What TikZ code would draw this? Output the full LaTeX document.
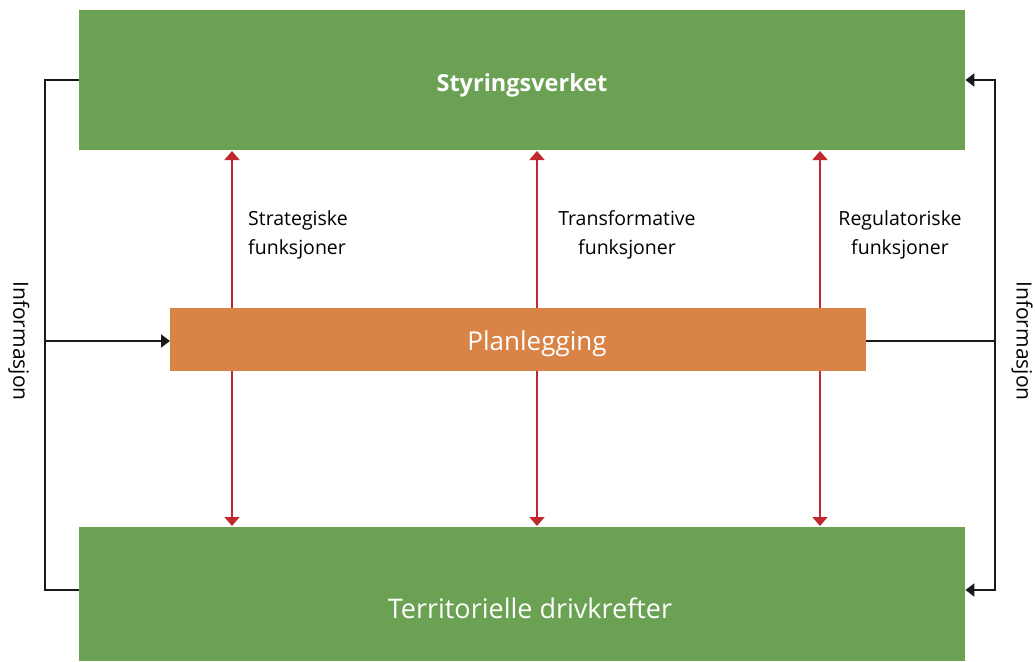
\documentclass[tikz,border=0pt]{standalone}
\usepackage{fontspec}
\setmainfont{Open Sans}
\usetikzlibrary{arrows.meta}
\definecolor{grn}{HTML}{6AA153}
\definecolor{org}{HTML}{D98446}
\definecolor{rd}{HTML}{C0282D}
\begin{document}
\begin{tikzpicture}[x=1pt,y=-1pt,
  gbox/.style={fill=grn,draw=none,minimum width=886pt,minimum height=140pt,inner sep=0pt},
  obox/.style={fill=org,draw=none,minimum width=696pt,minimum height=63pt,inner sep=0pt},
  btxt/.style={text=white,inner sep=0pt},
  redarr/.style={draw=rd,line width=1.6pt,{Triangle[width=15pt,length=9pt]}-{Triangle[width=15pt,length=9pt]}},
  blk/.style={draw=black!90,line width=2pt},
  blkarr/.style={blk,-{Triangle[width=13pt,length=9pt]}},
  lab/.style={font=\fontsize{19.5}{29}\selectfont,align=left,anchor=west,inner sep=0pt},
  labc/.style={font=\fontsize{19.5}{29}\selectfont,align=center,anchor=center,inner sep=0pt},
  info/.style={font=\fontsize{21}{25}\selectfont,rotate=-90,inner sep=0pt}]
\useasboundingbox[fill=white] (0,0) rectangle (1035,661);
\node[gbox,anchor=north west] (top) at (79,10) {};
\node[gbox,anchor=north west,minimum height=134pt] (bot) at (79,527) {};
\node[btxt,font=\bfseries\fontsize{23.5}{28}\selectfont] (toptxt) at (522,85) {Styringsverket};
\node[btxt,font=\fontsize{27}{30}\selectfont] (bottxt) at (530,608) {Territorielle drivkrefter};
% red arrows (behind orange)
\coordinate (t1) at (232,151); \coordinate (b1) at (232,526);
\coordinate (t2) at (537,151); \coordinate (b2) at (537,526);
\coordinate (t3) at (820,151); \coordinate (b3) at (820,526);
\draw[redarr] (t1) -- (b1);
\draw[redarr] (t2) -- (b2);
\draw[redarr] (t3) -- (b3);
\node[obox,anchor=north west] (plan) at (170,308) {};
\node[btxt,font=\fontsize{26}{30}\selectfont] (plantxt) at (537,344) {Planlegging};
\node[lab] (l1) at (248,235) {Strategiske\\funksjoner};
\node[labc] (l2) at (627,235) {Transformative\\funksjoner};
\node[labc] (l3) at (900,235) {Regulatoriske\\funksjoner};
% left info loop
\coordinate (lt) at (45,80); \coordinate (lb) at (45,590); \coordinate (lm) at (45,341);
\draw[blk] (top.west |- lt) -- (lt) -- (lb) -- (bot.west |- lb);
\draw[blkarr] (lm) -- (plan.west |- lm);
% right info loop
\coordinate (rt) at (995,80); \coordinate (rb) at (995,590); \coordinate (rm) at (995,341);
\draw[blkarr] (rm) -- (rt) -- (top.east |- rt);
\draw[blkarr] (rm) -- (rb) -- (bot.east |- rb);
\draw[blk] (plan.east |- rm) -- (rm);
\node[info] (il) at (19,341) {Informasjon};
\node[info] (ir) at (1022,341) {Informasjon};
\end{tikzpicture}
\end{document}
